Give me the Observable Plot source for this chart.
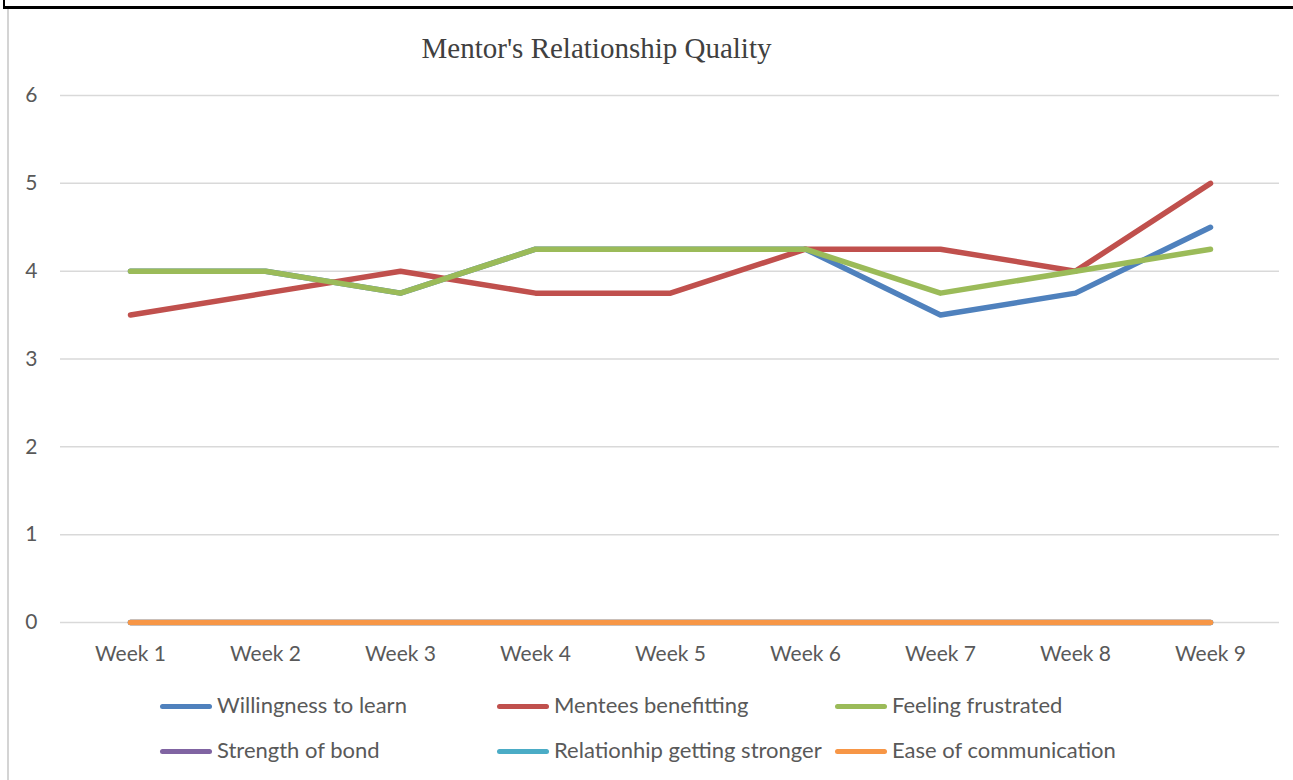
<!DOCTYPE html>
<html>
<head>
<meta charset="utf-8">
<script src="https://cdn.jsdelivr.net/npm/d3@7"></script>
<script src="https://cdn.jsdelivr.net/npm/@observablehq/plot@0.6"></script>
<style>
  html, body { margin: 0; padding: 0; background: #fff; }
  #wrap { position: relative; width: 1293px; height: 780px; overflow: hidden; background: #fff; }
  #topline { position: absolute; left: 3px; top: 6px; width: 1290px; height: 3px; background: #000; }
  #topleft { position: absolute; left: 3px; top: 0; width: 2px; height: 8px; background: #000; }
  #leftline { position: absolute; left: 7px; top: 9px; width: 2px; height: 771px; background: #d4d4d4; }
  #title { position: absolute; left: 0; width: 1193px; top: 32px; text-align: center;
    font-family: "Liberation Serif", "Times New Roman", serif; font-size: 29px; color: #404040; }
  #chart { position: absolute; left: 0; top: 0; }
  .leg { position: absolute; font-family: Lato, "Open Sans", sans-serif; font-size: 22px; color: #595959; white-space: nowrap; }
  .sw { position: absolute; height: 5px; border-radius: 3px; }
</style>
</head>
<body>
<div id="wrap">
  <div id="topleft"></div>
  <div id="topline"></div>
  <div id="leftline"></div>
  <div id="title">Mentor's Relationship Quality</div>
  <div id="chart"></div>
  <div id="legend"></div>
</div>
<script>
const weeks = ["Week 1","Week 2","Week 3","Week 4","Week 5","Week 6","Week 7","Week 8","Week 9"];
const seriesNames = ["Willingness to learn","Mentees benefitting","Feeling frustrated","Strength of bond","Relationhip getting stronger","Ease of communication"];
const seriesColors = ["#4F81BD","#C0504D","#9BBB59","#8064A2","#4BACC6","#F79646"];
const willingness = [4, 4, 3.75, 4.25, 4.25, 4.25, 3.5, 3.75, 4.5];
const benefitting = [3.5, 3.75, 4, 3.75, 3.75, 4.25, 4.25, 4, 5];
const frustrated = [4, 4, 3.75, 4.25, 4.25, 4.25, 3.75, 4, 4.25];
const bond = [0, 0, 0, 0, 0, 0, 0, 0, 0];
const stronger = [0, 0, 0, 0, 0, 0, 0, 0, 0];
const ease = [0, 0, 0, 0, 0, 0, 0, 0, 0];
const yTicks = [0, 1, 2, 3, 4, 5, 6];

const allValues = [willingness, benefitting, frustrated, bond, stronger, ease];
const data = [];
allValues.forEach((vals, si) => vals.forEach((v, i) => data.push({week: weeks[i], value: v, series: seriesNames[si]})));

const chart = Plot.plot({
  width: 1293,
  height: 680,
  marginLeft: 60,
  marginRight: 14,
  marginTop: 95,
  marginBottom: 58,
  style: { fontFamily: "Lato, 'Open Sans', sans-serif", fontSize: "21px", color: "#595959", background: "transparent" },
  x: { domain: weeks, type: "point", padding: 0.5, label: null },
  y: { domain: [0, 6], label: null },
  marks: [
    Plot.gridY(yTicks, { stroke: "#d9d9d9", strokeOpacity: 1, strokeWidth: 1.5 }),
    ...seriesNames.map((name, si) => Plot.line(data.filter(d => d.series === name), {
      x: "week", y: "value", stroke: seriesColors[si], strokeWidth: 5.5, strokeLinecap: "round", strokeLinejoin: "round"
    })),
    Plot.axisX({ tickSize: 0, tickPadding: 24, fill: "#595959", label: null }),
    Plot.axisY(yTicks, { tickSize: 0, tickPadding: 23, fill: "#595959", tickFormat: d => String(d), label: null })
  ]
});
document.getElementById("chart").appendChild(chart);

const legend = document.getElementById("legend");
const legPos = [[160, 706], [497, 706], [835, 706], [160, 751], [497, 751], [835, 751]];
seriesNames.forEach((name, i) => {
  const [x, y] = legPos[i];
  const sw = document.createElement("div");
  sw.className = "sw";
  sw.style.left = x + "px"; sw.style.top = (y - 2.5) + "px"; sw.style.width = "52px";
  sw.style.background = seriesColors[i];
  legend.appendChild(sw);
  const t = document.createElement("div");
  t.className = "leg";
  t.textContent = name;
  t.style.left = (x + 57) + "px"; t.style.top = (y - 15) + "px";
  legend.appendChild(t);
});
</script>
</body>
</html>
